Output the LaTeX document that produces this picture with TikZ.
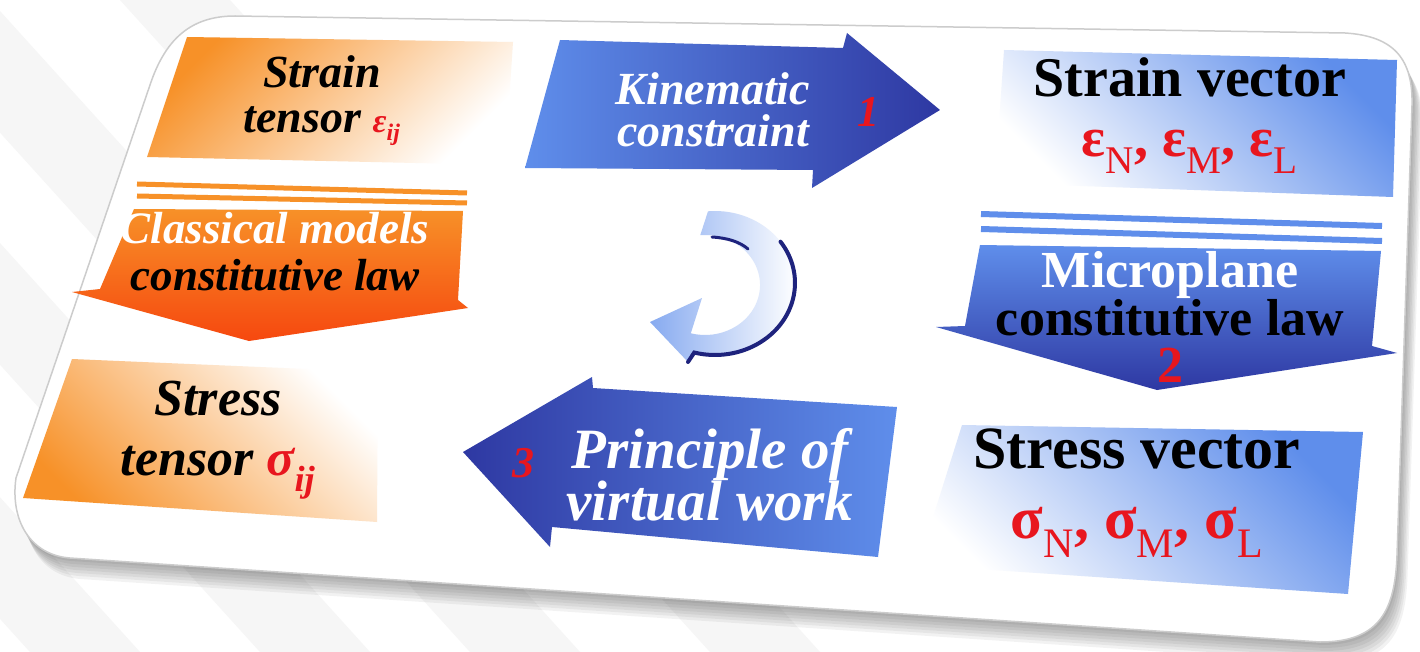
\documentclass[tikz,border=0pt]{standalone}
\usepackage{fontspec}
\setmainfont{Liberation Serif}

\definecolor{orangeDeep}{RGB}{247,145,40}
\definecolor{orangeRed}{RGB}{246,72,15}
\definecolor{blueLight}{RGB}{95,142,235}
\definecolor{blueDark}{RGB}{46,56,162}
\definecolor{blueNavy}{RGB}{30,35,125}
\definecolor{redNum}{RGB}{232,22,30}

\newcommand{\fsz}[2]{\fontsize{#1}{#2}\selectfont}
% outline of the white card, in pixel units
\newcommand{\cardoutline}{(235,16) -- (1345,33) .. controls (1395,36) and (1413,60) .. (1412,105)
    -- (1397,555) .. controls (1395,610) and (1380,642) .. (1320,642)
    -- (70,558) .. controls (30,555) and (10,520) .. (16,478)
    -- (150,85) .. controls (165,40) and (190,16) .. (235,16) -- cycle}

\tikzset{
    boxtxt/.style={align=center, inner sep=0pt},
    num/.style={text=redNum, inner sep=0pt, font=\bfseries\itshape\fsz{44}{44}}
}

\begin{document}
\begin{tikzpicture}[x=1pt, y=-1pt]
    \useasboundingbox (0,0) rectangle (1420,652);

    % background with light stripes
    \fill[white] (0,0) rectangle (1420,652);
    \foreach \x in {-560, -330, -120, 120}
        \fill[gray!7] (\x,0) -- (\x+110,0) -- (\x+700,652) -- (\x+590,652) -- cycle;

    % soft shadow under the card
    \foreach \s in {3, 6, ..., 21}
        \fill[black, opacity=0.05, shift={(\s*0.5,\s)}] \cardoutline;
    \fill[white, draw=gray!40, line width=1.5pt] \cardoutline;

    % orange column
    \shade[top color=orangeDeep, bottom color=white, shading angle=45]
        (187,37) -- (513,42) -- (505,165) -- (147,157) -- cycle;
    \foreach \dy/\dz in {0/0, 12/10}
        \draw[orangeDeep, line width=5pt] (137,184+\dy) -- (467,193+\dz);
    \shade[top color=orangeDeep, bottom color=orangeRed]
        (134,209) -- (463,211) -- (458,300) -- (468,308) -- (249,341) -- (72,292) -- (100,289) -- cycle;
    \shade[top color=orangeDeep, bottom color=white, shading angle=135]
        (72,359) -- (378,372) -- (377,522) -- (23,498) -- cycle;

    % blue arrows
    \shade[left color=blueLight, right color=blueDark]
        (560,40) -- (843,48) -- (847,33) -- (940,110) -- (812,188) -- (813,170) -- (525,168) -- cycle;
    \foreach \dy in {0,15}
        \draw[blueLight, line width=6pt] (981,214+\dy) -- (1382,226+\dy);
    \shade[top color=blueLight, bottom color=blueDark]
        (980,245) -- (1381,251) -- (1372,346) -- (1397,353) -- (1157,390) -- (936,327) -- (965,326) -- cycle;
    \shade[left color=blueDark, right color=blueLight]
        (593,388) -- (897,407) -- (878,557) -- (552,527) -- (550,547) -- (463,452) -- (592,377) -- cycle;

    % blue boxes
    \shade[top color=blueLight, bottom color=white, shading angle=-45]
        (1004,50) -- (1397,60) -- (1393,197) -- (995,183) -- cycle;
    \shade[top color=blueLight, bottom color=white, shading angle=-45]
        (962,425) -- (1363,432) -- (1348,594) -- (918,565) -- cycle;

    % turning arrow in the middle
    \shade[left color=blueLight!75!white, right color=white]
        (708,211.3) arc[start angle=-95, end angle=105, x radius=80, y radius=72]
        -- (688,362) -- (650,322) -- (702,298) -- (690.8,333.3)
        arc[start angle=105, end angle=-95, x radius=55, y radius=50] -- cycle;
    \draw[blueNavy, line width=4pt, line cap=round]
        (780.5,241.7) arc[start angle=-35, end angle=105, x radius=80, y radius=72] -- (688,362);
    \draw[blueNavy, line width=3pt, line cap=round]
        (712,237) .. controls (728,238) and (740,242) .. (748,249);

    % texts
    \node[boxtxt, font=\bfseries\itshape\fsz{46}{45}] (straint) at (322,101)
        {Strain\\tensor \textcolor{redNum}{\fsz{34}{34}ε\textsubscript{ij}}};
    \node[boxtxt, text=white, font=\bfseries\itshape\fsz{46}{42}] (kinem) at (713,110)
        {Kinematic\\constraint};
    \node[num] (one) at (868,112) {1};
    \node[boxtxt, font=\bfseries\fsz{56}{60}] (strainv) at (1190,116)
        {Strain vector\\\textcolor{redNum}{ε\textsubscript{\mdseries N}, ε\textsubscript{\mdseries M}, ε\textsubscript{\mdseries L}}};

    \node[boxtxt, font=\bfseries\itshape\fsz{45}{47}] (classic) at (275,252)
        {\textcolor{white}{Classical models}\\constitutive law};
    \node[boxtxt, font=\bfseries\fsz{52}{47}] (micro) at (1170,317)
        {\textcolor{white}{Microplane}\\constitutive law\\\textcolor{redNum}{2}};

    \node[boxtxt, font=\bfseries\itshape\fsz{52}{60}] (stresst) at (218,440)
        {Stress\\tensor \textcolor{redNum}{σ\textsubscript{ij}}};
    \node[boxtxt, text=white, font=\bfseries\itshape\fsz{57}{52}] (princ) at (710,475)
        {Principle of\\virtual work};
    \node[num] (three) at (523,463) {3};
    \node[boxtxt, font=\bfseries\fsz{60}{70}] (stressv) at (1137,493)
        {Stress vector\\\textcolor{redNum}{σ\textsubscript{\mdseries N}, σ\textsubscript{\mdseries M}, σ\textsubscript{\mdseries L}}};
\end{tikzpicture}
\end{document}
